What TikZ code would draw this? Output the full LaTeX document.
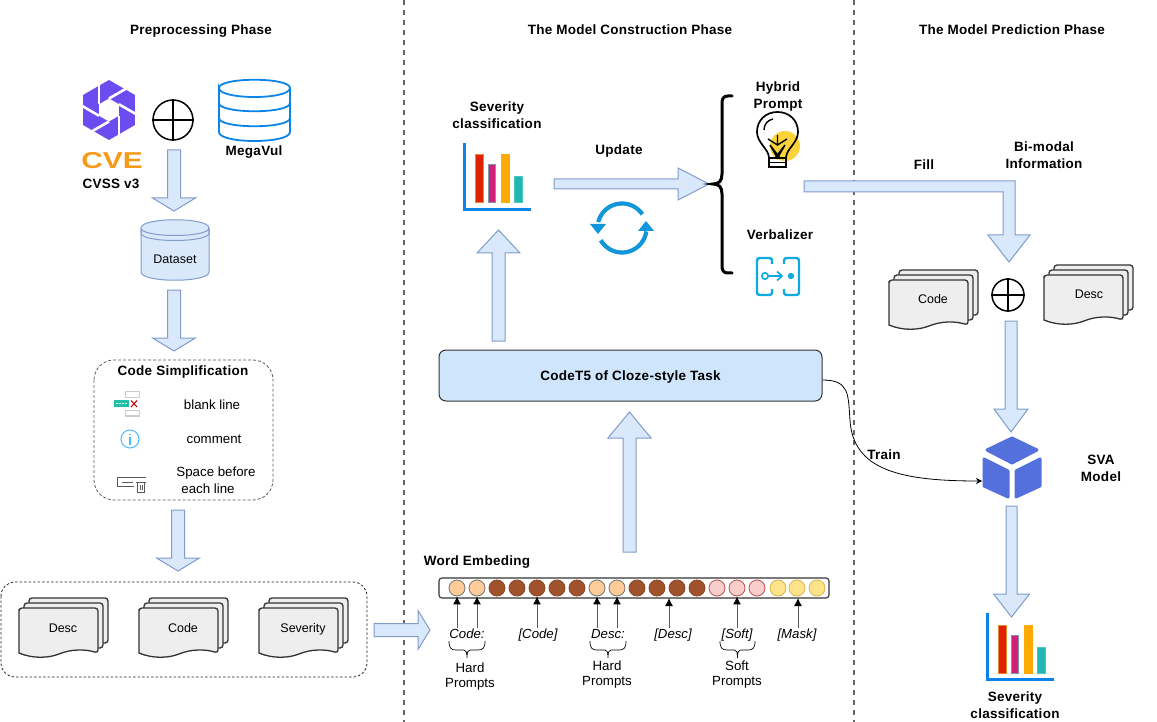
\documentclass[tikz,border=0pt]{standalone}
\usepackage{fontspec}
\setmainfont{Liberation Sans}
\usetikzlibrary{calc,arrows.meta}
\definecolor{barfill}{HTML}{DAE8FC}
\definecolor{barline}{HTML}{7F9CCB}
\definecolor{sepgray}{HTML}{666666}
\definecolor{docfill}{HTML}{EEEEEE}
\definecolor{docline}{HTML}{333333}
\definecolor{dbblue}{HTML}{0A84E8}
\definecolor{iconblue}{HTML}{1296DB}
\definecolor{purplelogo}{HTML}{6A4CF0}
\definecolor{cvecol}{HTML}{F59A1B}
\definecolor{cubeblue}{HTML}{5470DC}
\definecolor{brownc}{HTML}{A0522D}
\definecolor{peachc}{HTML}{FFCC99}
\definecolor{pinkc}{HTML}{F8CECC}
\definecolor{pinkl}{HTML}{B85450}
\definecolor{yellowc}{HTML}{FFE38A}
\definecolor{yellowl}{HTML}{D6B656}
\definecolor{boxfill}{HTML}{CFE5FB}
\definecolor{barred}{HTML}{DD2200}
\definecolor{barredl}{HTML}{E98A2A}
\definecolor{barmag}{HTML}{D0207A}
\definecolor{barmagl}{HTML}{7F97A8}
\definecolor{barora}{HTML}{FFAA00}
\definecolor{barteal}{HTML}{20B8B0}
\definecolor{bulbyel}{HTML}{FDD33A}
\definecolor{tealicon}{HTML}{1FBFA8}
\tikzset{
  x=1pt,y=-1pt,
  every node/.style={inner sep=0,align=center},
  boldtext/.style={font=\fontsize{13.5}{14}\bfseries\addfontfeatures{LetterSpace=2}\selectfont,text height=9pt,text depth=0pt},
  smalltext/.style={font=\fontsize{12.5}{14}\selectfont,text height=9pt,text depth=0pt},
  midtext/.style={font=\fontsize{13.3}{14}\selectfont,text height=9pt,text depth=0pt},
  itlabel/.style={font=\fontsize{13.2}{14}\itshape\selectfont,text height=9pt,text depth=0pt},
  blockarrow/.style={fill=barfill,draw=barline,line width=1pt,line join=miter},
  sepline/.style={draw=sepgray,line width=1.4pt,dash pattern=on 5pt off 5pt},
  groupbox/.style={draw=black!85,line width=.8pt,dash pattern=on 2.5pt off 2pt,rounded corners=14pt},
  sheet/.style={fill=docfill,draw=docline,line width=1.3pt,rounded corners=3pt},
  plusring/.style={draw=black,line width=1.5pt},
  tok/.style={circle,minimum size=16pt,line width=.8pt},
  tokhard/.style={tok,fill=peachc,draw=black!55},
  tokfill/.style={tok,fill=brownc,draw=brownc!85!black},
  toksoft/.style={tok,fill=pinkc,draw=pinkl},
  tokmask/.style={tok,fill=yellowc,draw=yellowl},
  pointer/.style={draw=black!65,line width=1pt,-{Latex[black,length=8pt,width=8pt]}},
  thinbrace/.style={draw=black,line width=.7pt},
  pics/docstack/.style={code={
    \draw[sheet] (10,-10) rectangle (89,35);
    \draw[sheet] (5,-5) rectangle (84,40);
    \draw[sheet] (0,45) -- (0,4) -- (0,0) -- (79,0) -- (79,45)
      [sharp corners] .. controls (66,41) and (52,41) .. (40,46) .. controls (30,50) and (14,51) .. (0,45) -- cycle;
  }},
  pics/chart/.style={code={
    \fill[barred,draw=barredl,line width=1pt] (11,12) rectangle (19,60);
    \fill[barmag,draw=barmagl,line width=1pt] (24,22) rectangle (31.5,60);
    \fill[barora,draw=barora,line width=1pt] (37,12) rectangle (45,60);
    \fill[barteal,draw=barteal!80!white,line width=1pt] (50.5,34) rectangle (58,60);
    \draw[dbblue,line width=3pt] (0,0) -- (0,66.5) -- (67,66.5);
  }},
}
\newcommand\barr[5]{%
  \coordinate (hb) at ($(#2)!#5pt!(#1)$);
  \draw[blockarrow] ($(#1)!#3pt!90:(#2)$) -- ($(hb)!#3pt!90:(#2)$) -- ($(hb)!#4pt!90:(#2)$) -- (#2)
    -- ($(hb)!#4pt!-90:(#2)$) -- ($(hb)!#3pt!-90:(#2)$) -- ($(#1)!#3pt!-90:(#2)$) -- cycle;}
\newcommand\plusmark[3]{%
  \node[circle,plusring,minimum size=#3pt] (#1) at (#2) {};
  \draw[plusring] (#1.north) -- (#1.south) (#1.west) -- (#1.east);}
\newcommand\minibrace[3]{% left x, right x, name
  \pgfmathsetmacro\midx{(#1+#2)/2}
  \coordinate (#3) at (\midx,658);
  \draw[thinbrace] (#1,641) .. controls (#1,648) and (#1+2,650) .. (#1+7,650) -- (\midx-3,650)
    .. controls (\midx-1,650) and (\midx,652) .. (\midx,658)
    .. controls (\midx,652) and (\midx+1,650) .. (\midx+3,650) -- (#2-7,650)
    .. controls (#2-2,650) and (#2,648) .. (#2,641);}
\begin{document}
\begin{tikzpicture}
\useasboundingbox (0,0) rectangle (1157,722);
% separators
\coordinate (s1t) at (404,0); \coordinate (s1b) at (404,722);
\coordinate (s2t) at (854,0); \coordinate (s2b) at (854,722);
\draw[sepline] (s1t) -- (s1b);
\draw[sepline] (s2t) -- (s2b);
% titles
\node[boldtext] (t1) at (201,30) {Preprocessing Phase};
\node[boldtext] (t2) at (630,30) {The Model Construction Phase};
\node[boldtext] (t3) at (1012,30) {The Model Prediction Phase};
% purple logo
\begin{scope}[shift={(109,110)}]
  \fill[purplelogo] (90:30) -- (30:30) -- (-30:30) -- (-90:30) -- (-150:30) -- (150:30) -- cycle;
  \fill[white] (90:11.5) -- (30:11.5) -- (-30:11.5) -- (-90:11.5) -- (-150:11.5) -- (150:11.5) -- cycle;
  \foreach \a in {30,90,150,210,270,330}
    \draw[white,line width=2.6pt] (\a:11.5) -- ++(\a+60:27);
\end{scope}
\node[font=\fontsize{23}{24}\bfseries\selectfont,text=cvecol,xscale=1.3,text height=16.5pt,text depth=0pt] (cve) at (112,160.5) {CVE};
\node[boldtext] (cvss) at (111,184) {CVSS v3};
\plusmark{plusa}{173,120}{40}
% MegaVul
\begin{scope}[dbblue,line width=1.8pt]
  \draw (219,88) .. controls (219,77) and (290,77) .. (290,88) .. controls (290,100) and (219,100) .. (219,88) -- (219,132)
     .. controls (219,144) and (290,144) .. (290,132) -- (290,88);
  \draw (219,103) .. controls (219,114) and (290,114) .. (290,103);
  \draw (219,118) .. controls (219,129) and (290,129) .. (290,118);
\end{scope}
\node[boldtext] (mv) at (254,151) {MegaVul};
% Dataset
\draw[fill=barfill,draw=barline,line width=1pt] (141,228) .. controls (141,217) and (209,217) .. (209,228) -- (209,272)
  .. controls (209,283) and (141,283) .. (141,272) -- cycle;
\draw[barline,line width=1pt] (141,228) .. controls (141,238) and (209,238) .. (209,228)
   (141,233) .. controls (141,243) and (209,243) .. (209,233)
   (141,228) -- (141,233) (209,228) -- (209,233);
\node[smalltext] (ds) at (175,259.5) {Dataset};
% Preprocessing arrows
\coordinate (a1s) at (174,150); \coordinate (a1e) at (174,211);
\barr{a1s}{a1e}{6.5}{21.5}{13}
\coordinate (a2s) at (174,290); \coordinate (a2e) at (174,351);
\barr{a2s}{a2e}{6.5}{21.5}{13}
\coordinate (a3s) at (178,510); \coordinate (a3e) at (178,571);
\barr{a3s}{a3e}{6.5}{21.5}{13}
% Code simplification
\draw[draw=black!65,line width=.8pt,dash pattern=on 3pt off 2pt,rounded corners=20pt] (94,360) rectangle (273,500);
\node[boldtext] (cs) at (183,371) {Code Simplification};
\draw[draw=black!20,line width=1.4pt] (125.5,391.5) rectangle (139.5,397.5) (125.5,410.5) rectangle (139.5,416);
\fill[tealicon] (114,400) rectangle (129,407);
\draw[white,line width=.7pt,dash pattern=on 2pt off 1pt] (116,403.5) -- (127,403.5);
\draw[red!80!black,line width=1.1pt] (131,400.5) -- (137,407) (137,400.5) -- (131,407);
\node[midtext] (bl) at (212,405) {blank line};
\draw[draw=blue!40!cyan!70,line width=1pt] (130,439) circle (9);
\draw[draw=blue!40!cyan!70,line width=1.1pt] (130,437) -- (130,445) (130,433.5) -- (130,435);
\node[midtext] (cm) at (214,439) {comment};
\draw[black!65,line width=1pt] (117,486) -- (117,477.5) -- (146,477.5) (122,482) -- (133,482) (117,486) -- (134,486);
\draw[black!65,line width=.9pt] (136,482) -- (146,482) (137.5,482) -- (137.5,492) -- (144.5,492) -- (144.5,482) (140,485) -- (140,490) (142,485) -- (142,490);
\node[midtext] (sb) at (216,472) {Space before};
\node[midtext] (el) at (208,489) {each line};
% group
\draw[groupbox] (1,582) rectangle (367,677);
\pic at (19,608) {docstack};
\pic at (139,608) {docstack};
\pic at (259,608) {docstack};
\node[smalltext] (ld) at (63,628) {Desc};
\node[smalltext] (lc) at (183,628) {Code};
\node[smalltext] (ls) at (303,628) {Severity};
\coordinate (a4s) at (374,630); \coordinate (a4e) at (430,630);
\barr{a4s}{a4e}{6.5}{19.5}{12}
% Construction phase
\node[boldtext] (sc1) at (497,107) {Severity};
\node[boldtext] (sc2) at (497,124) {classification};
\pic at (464,143) {chart};
\node[boldtext] (up) at (619,150) {Update};
\coordinate (a5s) at (554,184); \coordinate (a5e) at (709,184);
\barr{a5s}{a5e}{5}{16}{31}
% cycle icon
\begin{scope}[shift={(622,228)}]
  \draw[iconblue,line width=4.2pt] plot[domain=194:326,samples=30] ({24.5*cos(\x)},{24.5*sin(\x)});
  \draw[iconblue,line width=4.2pt] plot[domain=8:150,samples=30] ({24.5*cos(\x)},{24.5*sin(\x)});
  \fill[iconblue] (-32,-4) -- (-16,-4) -- (-24,6) -- cycle;
  \fill[iconblue] (32,3) -- (16,3) -- (24,-7) -- cycle;
\end{scope}
% brace
\coordinate (brtip) at (713,184);
\draw[black,line width=3pt,line cap=round] (732,96) -- (728,96) .. controls (723,96) and (722,99) .. (722,104) -- (722,174)
  .. controls (722,181) and (719,184) .. (brtip) .. controls (719,184) and (722,187) .. (722,194) -- (722,265)
  .. controls (722,270) and (723,273) .. (728,273) -- (732,273);
% Hybrid prompt
\node[boldtext] (hp1) at (778,87) {Hybrid};
\node[boldtext] (hp2) at (778,104) {Prompt};
\fill[bulbyel] (785,146) circle (15);
\draw[black,line width=1.7pt] (769,158) .. controls (769,149) and (757,143) .. (757,132) .. controls (757,120) and (766,112) .. (777.5,112) .. controls (789,112) and (798,120) .. (798,132) .. controls (798,143) and (786,149) .. (786,158);
\draw[black,line width=1.7pt] (769,158) -- (786,158) -- (786,167) -- (769,167) -- cycle (769,162.5) -- (786,162.5);
\draw[black,line width=1.4pt] (768,139) -- (777.5,145) -- (787,139) (777.5,135) -- (777.5,145) (770,145) -- (777.5,158) -- (785,145) (770,145) -- (780,158) (785,145) -- (775,158);
\draw[black,line width=1.4pt] (764,130) .. controls (764,124) and (768,120) .. (773,119);
\node[boldtext] (vb) at (780,235) {Verbalizer};
\begin{scope}[draw=iconblue!80!cyan,line width=2.4pt,rounded corners=2.5pt,color=iconblue!80!cyan]
  \draw (772,264) -- (772,258) -- (757,258) -- (757,295) -- (772,295) -- (772,289);
  \draw (784,264) -- (784,258) -- (799,258) -- (799,295) -- (784,295) -- (784,289);
  \draw[line width=1.6pt,sharp corners] (765,276) circle (3.2);
  \draw[line width=1.6pt,sharp corners] (768,276) -- (781,276) (777,271.5) -- (782,276) -- (777,280.5);
  \fill (791,276) circle (3.2);
\end{scope}
% CodeT5
\node[boldtext,draw=docline,fill=boxfill,line width=1pt,rounded corners=7pt,minimum width=383pt,minimum height=51pt] (cb) at (630.5,375.5) {CodeT5 of Cloze-style Task};
\coordinate (a6s) at (498.5,341); \coordinate (a6e) at (498.5,230);
\barr{a6s}{a6e}{6.5}{21.5}{23}
\coordinate (a7s) at (629.5,552); \coordinate (a7e) at (629.5,412);
\barr{a7s}{a7e}{6.5}{21.5}{26}
% Word embedding
\node[boldtext] (we) at (477,561) {Word Embeding};
\node[draw=docline,fill=white,line width=1.1pt,rounded corners=3pt,minimum width=390pt,minimum height=20pt] (wb) at (634,588) {};
\foreach \i/\x/\s in {1/457/tokhard,2/477/tokhard,3/497/tokfill,4/517/tokfill,5/537/tokfill,6/557/tokfill,7/577/tokfill,8/597/tokhard,9/617/tokhard,10/637/tokfill,11/657/tokfill,12/677/tokfill,13/697/tokfill,14/717/toksoft,15/737/toksoft,16/757/toksoft,17/778/tokmask,18/797/tokmask,19/817/tokmask}
  \node[\s] (c\i) at (\x,588) {};
\coordinate (p1) at (457,628); \coordinate (p2) at (477,628); \coordinate (p3) at (537,628);
\coordinate (p4) at (597,628); \coordinate (p5) at (617,628); \coordinate (p6) at (669,628);
\coordinate (p7) at (737,628); \coordinate (p8) at (798,628);
\coordinate (q6) at (669,598); \coordinate (q8) at (798,598);
\draw[pointer] (p1) -- (c1.south);
\draw[pointer] (p2) -- (c2.south);
\draw[pointer] (p3) -- (c5.south);
\draw[pointer] (p4) -- (c8.south);
\draw[pointer] (p5) -- (c9.south);
\draw[pointer] (p6) -- (q6);
\draw[pointer] (p7) -- (c15.south);
\draw[pointer] (p8) -- (q8);
\node[itlabel] (w1) at (467,634) {Code:};
\node[itlabel] (w2) at (538,634) {[Code]};
\node[itlabel] (w3) at (608,634) {Desc:};
\node[itlabel] (w4) at (673,634) {[Desc]};
\node[itlabel] (w5) at (737,634) {[Soft]};
\node[itlabel] (w6) at (797,634) {[Mask]};
\minibrace{449}{485}{b1}
\minibrace{590}{626}{b2}
\minibrace{720}{755}{b3}
\node[midtext] (h1a) at (470,668) {Hard};
\node[midtext] (h1b) at (470,683) {Prompts};
\node[midtext] (h2a) at (607,666) {Hard};
\node[midtext] (h2b) at (607,681) {Prompts};
\node[midtext] (h3a) at (737,666) {Soft};
\node[midtext] (h3b) at (737,681) {Prompts};
% Prediction phase
\node[boldtext] (fill) at (924,165) {Fill};
\node[boldtext] (bm1) at (1044,147) {Bi-modal};
\node[boldtext] (bm2) at (1044,164) {Information};
\coordinate (a8e) at (1009,262);
\draw[blockarrow] (804,181) -- (1015,181) -- (1015,235) -- (1030,235) -- (a8e) -- (988,235) -- (1003,235) -- (1003,192) -- (804,192) -- cycle;
\pic at (889,280) {docstack};
\pic at (1044,275) {docstack};
\node[smalltext] (rc) at (933,299) {Code};
\node[smalltext] (rd) at (1089,294) {Desc};
\plusmark{plusb}{1008,295}{32}
\coordinate (a9s) at (1011,321); \coordinate (a9e) at (1011,432);
\barr{a9s}{a9e}{6}{17}{23}
% cube
\begin{scope}[fill=cubeblue,draw=cubeblue,line width=3pt,line join=round]
  \filldraw (987,450) -- (1012,438) -- (1037,450) -- (1012,463) -- cycle;
  \filldraw (984,459) -- (1008,471) -- (1008,497) -- (984,486) -- cycle;
  \filldraw (1040,459) -- (1016,471) -- (1016,497) -- (1040,486) -- cycle;
\end{scope}
\coordinate (cube) at (982,481);
\draw[black,line width=.8pt,-{Stealth[length=6pt,width=6pt]}] (cb.east|-822,380) .. controls (850,380) and (848,395) .. (850,420) .. controls (853,470) and (900,481) .. (cube);
\node[boldtext] (tr) at (884,455) {Train};
\node[boldtext] (sva1) at (1101,460) {SVA};
\node[boldtext] (sva2) at (1101,477) {Model};
\coordinate (a10s) at (1011.5,506); \coordinate (a10e) at (1011.5,617);
\barr{a10s}{a10e}{5.5}{18}{23}
\pic at (987,613) {chart};
\node[boldtext] (sc3) at (1015,697) {Severity};
\node[boldtext] (sc4) at (1015,714) {classification};
\end{tikzpicture}
\end{document}
